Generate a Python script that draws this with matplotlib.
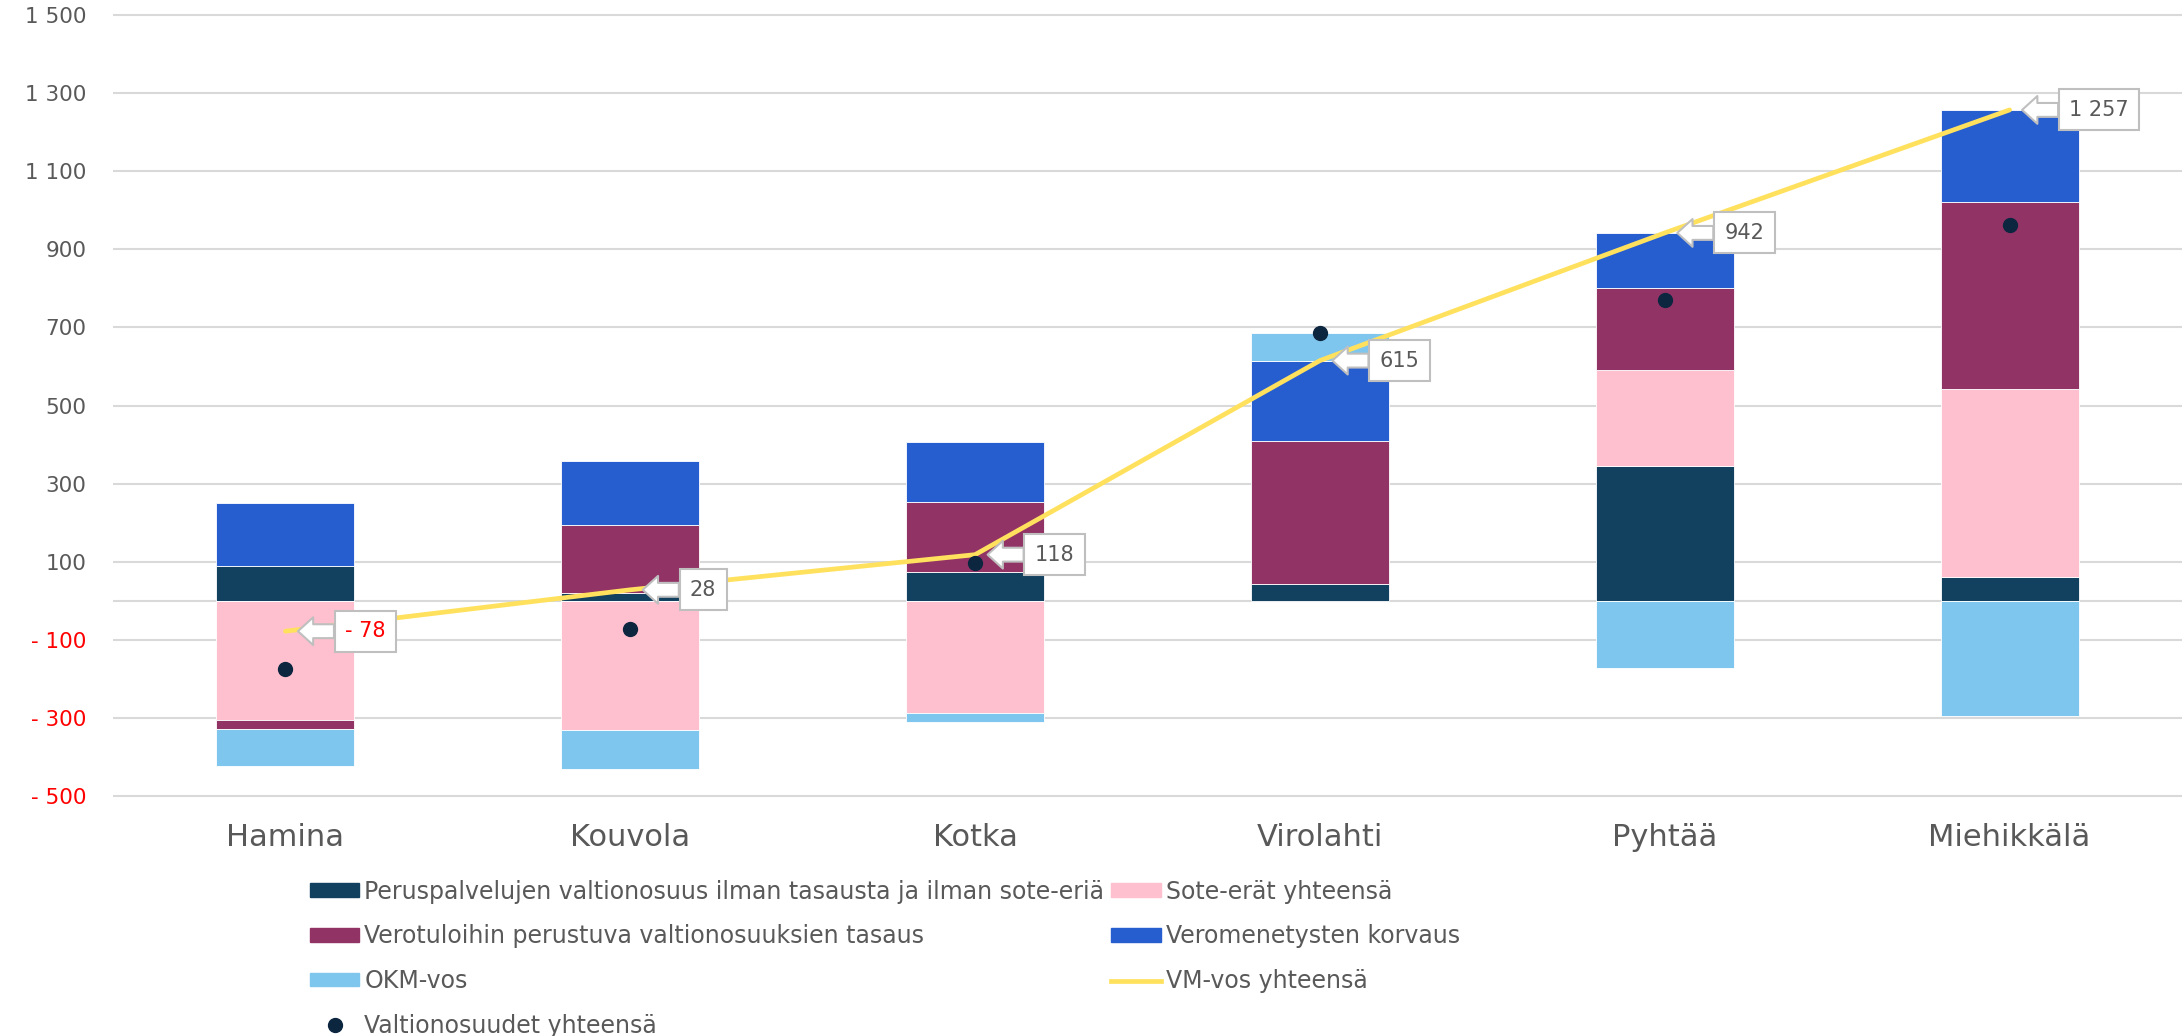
import numpy as np
import matplotlib.pyplot as plt
from matplotlib.lines import Line2D
from matplotlib.patches import Patch

kunnat = ['Hamina', 'Kouvola', 'Kotka', 'Virolahti', 'Pyhtää', 'Miehikkälä']

# euroa / asukas, luettu kuvasta
peruspalvelut = [88, 20, 74, 42, 346, 60]
sote = [-305, -330, -288, 2, 244, 482]
tasaus = [-23, 175, 178, 364, 212, 479]
veromenetys = [162, 163, 154, 207, 140, 236]
okm = [-96, -100, -22, 71, -171, -294]
vm_yhteensa = [-78, 28, 118, 615, 942, 1257]
vos_yhteensa = [-174, -72, 96, 686, 771, 963]

sarjat = [
    ('Peruspalvelujen valtionosuus ilman tasausta ja ilman sote-eriä', peruspalvelut, '#12405f'),
    ('Sote-erät yhteensä', sote, '#fec0cf'),
    ('Verotuloihin perustuva valtionosuuksien tasaus', tasaus, '#923366'),
    ('Veromenetysten korvaus', veromenetys, '#265ed0'),
    ('OKM-vos', okm, '#7fc6ee'),
]

fontti = ['DejaVu Sans']
harmaa = '#595959'

fig = plt.figure(figsize=(21.82, 10.36), dpi=100)
ax = fig.add_axes([113 / 2182, 0.2166, 1 - 113 / 2182, 0.7802])

x = np.arange(len(kunnat))
pos_pohja = np.zeros(len(kunnat))
neg_pohja = np.zeros(len(kunnat))
for nimi, arvot, vari in sarjat:
    arvot = np.array(arvot, dtype=float)
    pohja = np.where(arvot >= 0, pos_pohja, neg_pohja)
    ax.bar(x, arvot, 0.4, bottom=pohja, color=vari, edgecolor='white',
           linewidth=0.6, zorder=2)
    pos_pohja += np.where(arvot >= 0, arvot, 0)
    neg_pohja += np.where(arvot < 0, arvot, 0)

ax.plot(x, vm_yhteensa, color='#ffe15e', linewidth=3.4, zorder=3,
        solid_capstyle='round')
ax.plot(x, vos_yhteensa, 'o', color='#0d2640', markersize=10, zorder=4)

for i, v in enumerate(vm_yhteensa):
    teksti = f'- {abs(v)}' if v < 0 else f'{v:,}'.replace(',', ' ')
    ax.annotate(teksti, xy=(x[i], v), xytext=(43, 0), textcoords='offset points',
                ha='left', va='center', fontsize=15, family=fontti,
                color='red' if v < 0 else harmaa, zorder=5,
                bbox=dict(boxstyle='square,pad=0.5', fc='white', ec='#bfbfbf', lw=1.5),
                arrowprops=dict(arrowstyle='simple,head_length=0.55,head_width=1.0,tail_width=0.5',
                                fc='white', ec='#bfbfbf', lw=1.5, shrinkA=0, shrinkB=9,
                                mutation_scale=20))

ax.set_xlim(-0.5, 5.5)
ax.set_ylim(-540, 1530)
ax.set_yticks(np.arange(-500, 1501, 200))
ax.set_yticklabels([f'- {abs(t)}' if t < 0 else f'{t:,}'.replace(',', ' ')
                    for t in range(-500, 1501, 200)])
for lab, t in zip(ax.get_yticklabels(), range(-500, 1501, 200)):
    lab.set_color('red' if t < 0 else harmaa)
    lab.set_family(['Liberation Sans Narrow', 'DejaVu Sans'])
    lab.set_fontsize(15.5)
ax.tick_params(axis='y', length=0, pad=19)
ax.set_xticks(x)
ax.set_xticklabels(kunnat, fontsize=22, color=harmaa, family=fontti)
ax.tick_params(axis='x', length=0, pad=8)
ax.grid(axis='y', color='#d9d9d9', linewidth=1.5, zorder=0)
ax.axhline(0, color='#d9d9d9', linewidth=1.5, zorder=1)
ax.set_axisbelow(True)
for s in ax.spines.values():
    s.set_visible(False)

kahvat = [
    Patch(color=sarjat[0][2]), Patch(color=sarjat[2][2]), Patch(color=sarjat[4][2]),
    Line2D([], [], marker='o', color='#0d2640', linestyle='none', markersize=10),
    Patch(color=sarjat[1][2]), Patch(color=sarjat[3][2]),
    Line2D([], [], color='#ffe15e', linewidth=3.4),
]
nimet = [sarjat[0][0], sarjat[2][0], sarjat[4][0], 'Valtionosuudet yhteensä',
         sarjat[1][0], sarjat[3][0], 'VM-vos yhteensä']
leg = fig.legend(kahvat, nimet, loc='upper left', bbox_to_anchor=(0.142, 0.151),
                 ncol=2, frameon=False, prop={'family': fontti, 'size': 17},
                 handlelength=2.1, handleheight=0.5, handletextpad=0.2,
                 labelspacing=0.88, columnspacing=0.3, borderpad=0, borderaxespad=0)
for t in leg.get_texts():
    t.set_color(harmaa)

plt.savefig('out.png', dpi=100)
